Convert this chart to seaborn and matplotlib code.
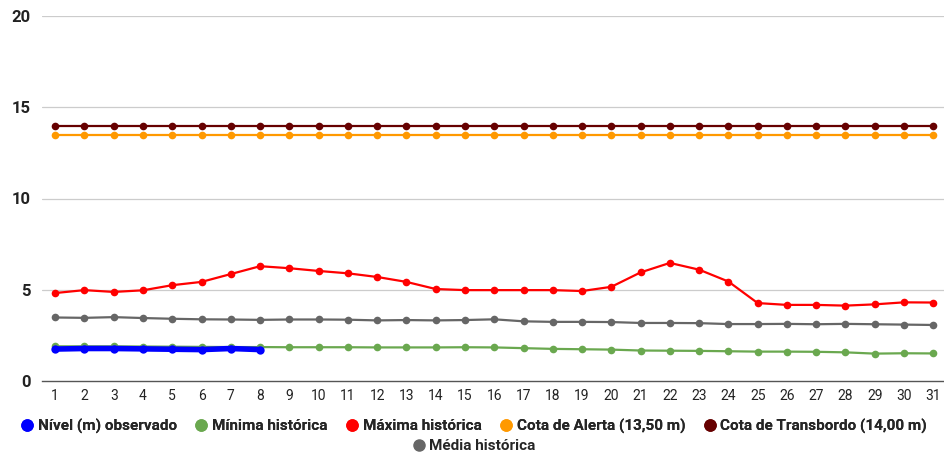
import numpy as np
import pandas as pd
import matplotlib
matplotlib.use("Agg")
import matplotlib.pyplot as plt
from matplotlib.lines import Line2D
import seaborn as sns

days = list(range(1, 32))
nivel = [1.75, 1.78, 1.78, 1.76, 1.74, 1.72, 1.78, 1.72]
minima = [1.90, 1.90, 1.90, 1.89, 1.88, 1.87, 1.86, 1.86, 1.85, 1.85, 1.85, 1.84, 1.84, 1.84, 1.85, 1.84,
          1.80, 1.76, 1.74, 1.72, 1.67, 1.66, 1.65, 1.63, 1.61, 1.61, 1.60, 1.57, 1.50, 1.52, 1.51]
maxima = [4.82, 4.98, 4.88, 4.97, 5.25, 5.43, 5.86, 6.29, 6.18, 6.03, 5.90, 5.70, 5.43, 5.04, 4.98, 4.98,
          4.98, 4.98, 4.93, 5.16, 5.95, 6.47, 6.10, 5.45, 4.27, 4.17, 4.17, 4.13, 4.20, 4.31, 4.30]
media = [3.48, 3.46, 3.50, 3.45, 3.41, 3.38, 3.37, 3.35, 3.37, 3.37, 3.36, 3.32, 3.34, 3.32, 3.34, 3.38,
         3.27, 3.24, 3.24, 3.23, 3.18, 3.18, 3.17, 3.12, 3.12, 3.13, 3.11, 3.13, 3.11, 3.09, 3.07]
alerta = [13.5] * 31
transbordo = [14.0] * 31

series_names = ["Nível (m) observado", "Mínima histórica", "Máxima histórica",
                "Cota de Alerta (13,50 m)", "Cota de Transbordo (14,00 m)", "Média histórica"]
colors = ["#0000ff", "#6aa84f", "#ff0000", "#ff9900", "#660000", "#666666"]

frames = []
for name, vals in zip(series_names, [nivel, minima, maxima, alerta, transbordo, media]):
    frames.append(pd.DataFrame({"dia": days[:len(vals)], "valor": vals, "serie": name}))
df = pd.concat(frames, ignore_index=True)

sns.set_style("white")
plt.rcParams["font.family"] = ["Roboto", "DejaVu Sans"]

fig = plt.figure(figsize=(9.45, 4.54), dpi=100)
ax = fig.add_axes([42 / 945, 1 - 381 / 454, 1 - 42 / 945, (381 - 16) / 454])

# draw from back to front: thresholds, media, maxima, minima, observado
draw_order = [4, 3, 5, 2, 1, 0]
for i in draw_order:
    name = series_names[i]
    sub = df[df["serie"] == name]
    lw = 4 if i == 0 else 1.6
    ms = 6 if i == 0 else 5.5
    sns.lineplot(data=sub, x="dia", y="valor", color=colors[i], linewidth=lw,
                 marker="o", markersize=ms, markeredgewidth=0, ax=ax, zorder=3 + (5 - i))

ax.set_xlim(0.55, 31.4)
ax.set_ylim(0, 20)
ax.set_xticks(days)
ax.set_xticklabels([str(d) for d in days], fontsize=10, color="#222222")
ax.set_yticks([0, 5, 10, 15, 20])
ax.set_yticklabels(["0", "5", "10", "15", "20"], fontsize=12, fontweight="bold", color="#222222")
ax.tick_params(axis="both", length=0, pad=6)
ax.tick_params(axis="y", pad=8)
ax.set_xlabel("")
ax.set_ylabel("")
for y in [5, 10, 15, 20]:
    ax.axhline(y, color="#cccccc", linewidth=0.9, zorder=1)
for s in ["top", "right", "left"]:
    ax.spines[s].set_visible(False)
ax.spines["bottom"].set_color("#555555")
ax.spines["bottom"].set_linewidth(1.0)

handles = [Line2D([], [], linestyle="none", marker="o", markersize=8, color=c) for c in colors]
leg_prop = {"size": 11, "weight": "bold"}
leg1 = fig.legend(handles[:5], series_names[:5], loc="center", bbox_to_anchor=(0.5, 1 - 426 / 454),
                  ncol=5, frameon=False, handletextpad=0.1, columnspacing=1.0,
                  handlelength=1.2, prop=leg_prop)
leg2 = fig.legend(handles[5:], series_names[5:], loc="center", bbox_to_anchor=(0.5, 1 - 446 / 454),
                  ncol=1, frameon=False, handletextpad=0.1, handlelength=1.2, prop=leg_prop)
fig.add_artist(leg1)

fig.savefig("out.png", dpi=100)
